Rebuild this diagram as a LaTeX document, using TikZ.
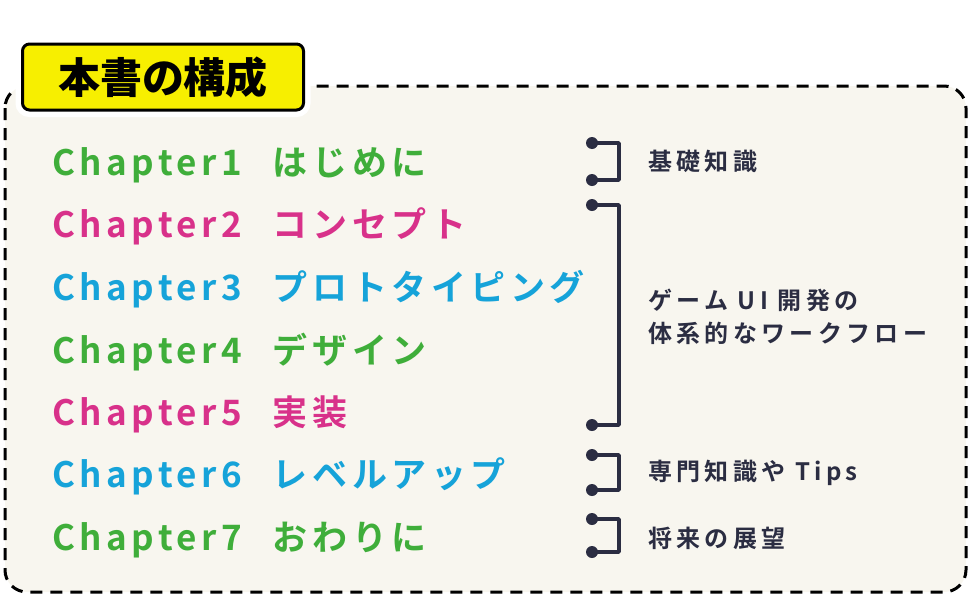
\documentclass[tikz,border=0pt]{standalone}
\usepackage{fontspec}
\usepackage{tikz}
\usetikzlibrary{positioning}
\setmainfont{Noto Sans CJK JP}
\newfontfamily\chapfont[LetterSpace=13]{Noto Sans CJK JP Bold}
\newfontfamily\topicfont[LetterSpace=18]{Noto Sans CJK JP Bold}
\newfontfamily\titlefont{Noto Sans CJK JP Black}
\definecolor{Cream}{HTML}{F8F6EF}
\definecolor{Ink}{HTML}{2B2D42}
\definecolor{Leaf}{HTML}{3FAE3A}
\definecolor{Rose}{HTML}{D8318A}
\definecolor{Sky}{HTML}{16A3D9}
\definecolor{Lemon}{HTML}{F7EF00}

\tikzset{
  chap/.style={anchor=base west,inner sep=0pt,font=\chapfont\fontsize{35}{37}\selectfont},
  topic/.style={anchor=west,inner sep=0pt,text=Ink,align=left,font=\topicfont\fontsize{24}{33}\selectfont},
  brace/.style={Ink,line width=3.5pt,line join=round},
  titlebox/.style={fill=Lemon,draw=black,line width=3pt,rounded corners=7pt,
    minimum width=281pt,minimum height=66pt,font=\titlefont\fontsize{42}{44}\selectfont,
    preaction={draw=white,line width=14pt}},
}

\begin{document}
\begin{tikzpicture}[x=1pt,y=-1pt]
  \useasboundingbox (0,0) rectangle (970,600);
  % frame
  \draw[fill=Cream,line width=3pt,dash pattern=on 12pt off 8pt,rounded corners=22pt]
    (5,86) rectangle (966,592);
  \node[titlebox] (title) at (163,77) {本書の構成};

  % chapters
  \foreach \i/\y/\lab/\col in {1/175/はじめに/Leaf,2/237/コンセプト/Rose,
      3/300/プロトタイピング/Sky,4/363/デザイン/Leaf,5/425/実装/Rose,
      6/487/レベルアップ/Sky,7/550/おわりに/Leaf}{
    \node[chap,text=\col] (ch\i) at (52,\y) {Chapter\i\hspace{31pt}\lab};
  }

  % brackets
  \foreach \n/\t/\b in {a/143/180,b/205/425,c/455/490,d/519/552}{
    \coordinate (\n top) at (592,\t);
    \coordinate (\n bot) at (592,\b);
    \draw[brace] (\n top) -- ++(27,0) |- (\n bot);
    \fill[Ink] (\n top) circle (6pt) (\n bot) circle (6pt);
  }

  % topics
  \node[topic] (basics) at (648,161) {基礎知識};
  \node[topic] (flow) at (648,317) {ゲーム UI 開発の\\体系的なワークフロー};
  \node[topic] (tips) at (648,473) {専門知識や Tips};
  \node[topic] (future) at (648,538) {将来の展望};
\end{tikzpicture}
\end{document}
